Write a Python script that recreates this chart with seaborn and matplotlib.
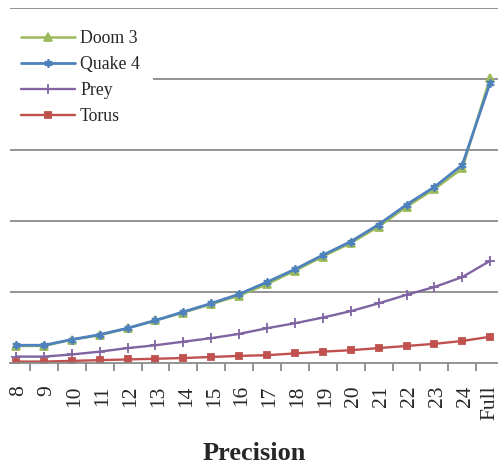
"""Line chart of cost per precision level for four game datasets."""

import matplotlib
matplotlib.use("Agg")
import matplotlib.pyplot as plt
from matplotlib.transforms import ScaledTranslation
import numpy as np
import pandas as pd
import seaborn as sns

PRECISION = ["8", "9", "10", "11", "12", "13", "14", "15", "16",
             "17", "18", "19", "20", "21", "22", "23", "24", "Full"]

DOOM3 = [0.24, 0.24, 0.33, 0.39, 0.49, 0.60, 0.71, 0.83, 0.95,
         1.11, 1.30, 1.50, 1.69, 1.92, 2.20, 2.45, 2.74, 4.02]
QUAKE4 = [0.25, 0.25, 0.33, 0.40, 0.49, 0.60, 0.72, 0.84, 0.97,
          1.14, 1.32, 1.52, 1.71, 1.95, 2.23, 2.48, 2.79, 3.95]
PREY = [0.09, 0.09, 0.12, 0.16, 0.21, 0.25, 0.30, 0.35, 0.41,
        0.49, 0.56, 0.64, 0.73, 0.84, 0.96, 1.07, 1.21, 1.44]
TORUS = [0.02, 0.02, 0.03, 0.04, 0.05, 0.06, 0.07, 0.085, 0.10,
         0.11, 0.135, 0.16, 0.18, 0.21, 0.24, 0.27, 0.31, 0.37]

SERIES = [
    ("Doom 3", DOOM3, "#9BBB59", "^", 6, 1.8),
    ("Quake 4", QUAKE4, "#4F81BD", (6, 2, 0), 6, 2.0),
    ("Prey", PREY, "#8064A2", "+", 7, 1.7),
    ("Torus", TORUS, "#C0504D", "s", 4.5, 1.7),
]

GRID = "#8a8a8a"


def main() -> None:
    sns.set_theme(style="white")
    plt.rcParams["font.family"] = ["Liberation Serif", "DejaVu Serif"]

    fig = plt.figure(figsize=(4.98, 4.71), dpi=100)
    ax = fig.add_axes([10 / 498, 1 - 363 / 471, 488 / 498, 355 / 471])

    for name, vals, color, marker, ms, lw in SERIES:
        df = pd.DataFrame({"precision": PRECISION, "value": vals})
        sns.lineplot(data=df, x="precision", y="value", sort=False, ax=ax,
                     color=color, marker=marker, markersize=ms, linewidth=lw,
                     markeredgecolor=color, markeredgewidth=1.3, label=name)

    ax.set_ylim(0, 5)
    ax.set_xlim(-0.215, 17.28)
    ax.set_yticks(np.arange(1, 6))
    ax.yaxis.grid(True, color=GRID, linewidth=1.3)
    ax.set_yticklabels([])
    ax.tick_params(axis="y", length=0)
    for side in ["top", "right", "left"]:
        ax.spines[side].set_visible(False)
    ax.spines["bottom"].set_color(GRID)
    ax.spines["bottom"].set_linewidth(1.3)

    ax.set_xticks(range(len(PRECISION)))
    ax.set_xticklabels(PRECISION, rotation=90, fontsize=15.5)
    ax.tick_params(axis="x", which="major", length=0, pad=16)
    ax.set_xticks(np.arange(0.5, len(PRECISION) - 1), minor=True)
    ax.tick_params(axis="x", which="minor", length=6, width=1.3,
                   color=GRID, direction="out", bottom=True)
    # nudge the digit labels a little to the right, like the original
    shift = ScaledTranslation(3 / 100, 0, fig.dpi_scale_trans)
    for lab in ax.get_xticklabels():
        if lab.get_text().isdigit():
            lab.set_transform(lab.get_transform() + shift)

    ax.set_xlabel("Precision", fontsize=19, fontweight="bold", labelpad=16)
    ax.set_ylabel("")

    leg = ax.legend(loc="upper left", bbox_to_anchor=(8 / 498, 1 - 17 / 471),
                    bbox_transform=fig.transFigure, fontsize=12.8,
                    frameon=True, facecolor="white", edgecolor="white",
                    framealpha=1, fancybox=False, handlelength=3.0,
                    handletextpad=0.3, labelspacing=0.5, borderpad=0.75,
                    borderaxespad=0)
    leg.get_frame().set_linewidth(0)

    fig.savefig("out.png", dpi=100)
    plt.close(fig)


if __name__ == "__main__":
    main()
